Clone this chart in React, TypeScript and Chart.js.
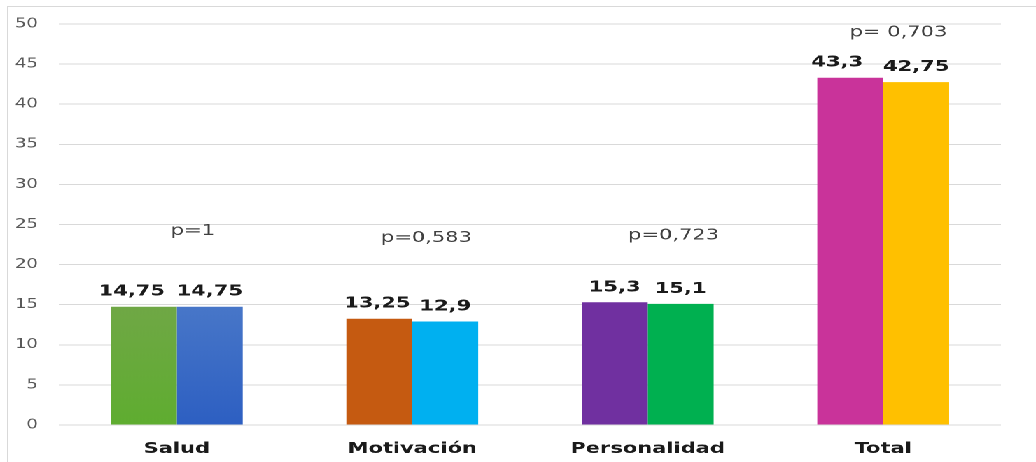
import React, { useEffect, useRef } from "react";
import { Chart, registerables } from "chart.js";

Chart.register(...registerables);

// Scores per dimension for the two groups compared
const categories = ["Salud", "Motivación", "Personalidad", "Total"];
const groupA = [14.75, 13.25, 15.3, 43.3];
const groupB = [14.75, 12.9, 15.1, 42.75];

// Each dimension has its own pair of colours
const colorsA = ["#6aab3f", "#c55a11", "#7030a0", "#c9339a"];
const colorsB = ["#3a68c6", "#00b0f0", "#00b050", "#ffc000"];

// Value labels of the first group are nudged left where they would crowd their neighbour (px)
const labelShiftA = [-12, -2, 0, -13];

// Significance labels: text, horizontal offset (in category widths) and height (axis units)
const pTexts = ["p=1", "p=0,583", "p=0,723", "p= 0,703"];
const pOffsets = [0.068, 0.06, 0.11, 0.065];
const pHeights = [24.2, 23.3, 23.6, 48.9];

const yTicks = { min: 0, max: 50, step: 5 };

// The chart is drawn narrow and stretched sideways, as in the original figure
const STRETCH = 1.4;
const W = 1036 / STRETCH;
const H = 462;

const fmt = (v: number) => String(v).replace(".", ",");

const barLabels = {
  id: "barLabels",
  afterDatasetsDraw(chart: any) {
    const ctx = chart.ctx;
    ctx.save();
    ctx.font = "bold 15px 'DejaVu Sans'";
    ctx.fillStyle = "#1a1a1a";
    ctx.textAlign = "center";
    ctx.textBaseline = "alphabetic";
    chart.data.datasets.forEach((ds: any, di: number) => {
      const meta = chart.getDatasetMeta(di);
      meta.data.forEach((bar: any, i: number) => {
        const dx = di === 0 ? labelShiftA[i] / STRETCH : 0;
        ctx.fillText(fmt(ds.data[i]), bar.x + dx, bar.y - 11);
      });
    });
    ctx.restore();
  },
};

const pLabels = {
  id: "pLabels",
  afterDatasetsDraw(chart: any) {
    const ctx = chart.ctx;
    const xs = chart.scales.x;
    const ys = chart.scales.y;
    const catW = (chart.chartArea.right - chart.chartArea.left) / categories.length;
    ctx.save();
    ctx.font = "15px 'DejaVu Sans'";
    ctx.fillStyle = "#404040";
    ctx.textAlign = "center";
    ctx.textBaseline = "middle";
    pTexts.forEach((t, i) => {
      const x = xs.getPixelForValue(i) + pOffsets[i] * catW;
      const y = ys.getPixelForValue(pHeights[i]);
      ctx.fillText(t, x, y);
    });
    ctx.restore();
  },
};

function gradientFor(ctx: any, top: string, bottom: string) {
  const chart = ctx.chart;
  const area = chart.chartArea;
  if (!area) return bottom;
  const g = chart.ctx.createLinearGradient(0, area.top + 250, 0, area.bottom);
  g.addColorStop(0, top);
  g.addColorStop(1, bottom);
  return g;
}

export default function App() {
  const ref = useRef<HTMLCanvasElement>(null);

  useEffect(() => {
    if (!ref.current) return;
    const chart = new Chart(ref.current, {
      type: "bar",
      data: {
        labels: categories,
        datasets: [
          {
            label: "Grupo 1",
            data: groupA,
            backgroundColor: (c: any) =>
              c.dataIndex === 0 ? gradientFor(c, "#74a64b", "#5fad30") : colorsA[c.dataIndex],
            categoryPercentage: 0.56,
            barPercentage: 1,
          },
          {
            label: "Grupo 2",
            data: groupB,
            backgroundColor: (c: any) =>
              c.dataIndex === 0 ? gradientFor(c, "#4f7dca", "#2d5fc2") : colorsB[c.dataIndex],
            categoryPercentage: 0.56,
            barPercentage: 1,
          },
        ],
      },
      options: {
        responsive: false,
        animation: false,
        devicePixelRatio: 2,
        layout: { padding: { top: 24, right: W - 1001 / STRETCH, bottom: 0, left: 0 } },
        plugins: {
          legend: { display: false },
          tooltip: { enabled: false },
        },
        scales: {
          x: {
            grid: { display: false },
            border: { display: false },
            ticks: {
              color: "#1a1a1a",
              font: { family: "'DejaVu Sans'", size: 15, weight: "bold" },
              padding: 7,
              maxRotation: 0,
            },
            afterFit(scale: any) {
              scale.height = 37;
            },
          },
          y: {
            min: yTicks.min,
            max: yTicks.max,
            grid: { color: "#d9d9d9", drawTicks: false },
            border: { display: false },
            ticks: {
              stepSize: yTicks.step,
              color: "#595959",
              font: { family: "'DejaVu Sans'", size: 13 },
              padding: 15,
            },
            afterFit(scale: any) {
              scale.width = 59 / STRETCH;
            },
          },
        },
      },
      plugins: [barLabels, pLabels],
    });
    return () => chart.destroy();
  }, []);

  return (
    <>
      <div
        style={{
          position: "absolute",
          left: 0,
          top: 0,
          width: W,
          height: H,
          transform: `scaleX(${STRETCH})`,
          transformOrigin: "0 0",
          background: "#fff",
        }}
      >
        <canvas ref={ref} width={W} height={H} style={{ width: W, height: H, display: "block" }} />
      </div>
      <div
        style={{
          position: "absolute",
          left: 7,
          top: 6,
          width: 1040,
          height: 470,
          borderLeft: "1px solid #d9d9d9",
          borderTop: "1px solid #d9d9d9",
          pointerEvents: "none",
        }}
      />
    </>
  );
}
